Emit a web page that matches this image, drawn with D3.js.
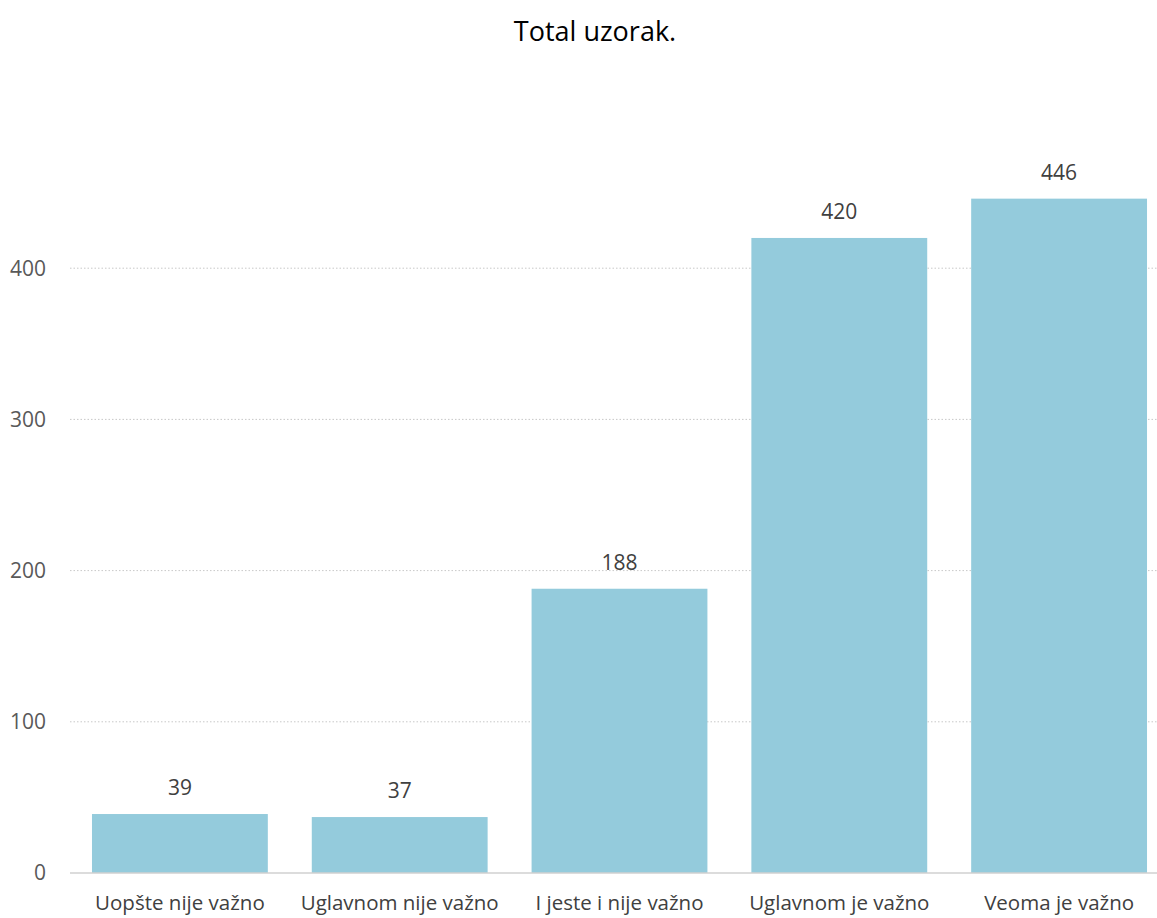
<!DOCTYPE html>
<html><head><meta charset="utf-8">
<script src="https://cdn.jsdelivr.net/npm/d3@7"></script>
<style>body{margin:0;background:#fff;}text{font-family:"Open Sans",sans-serif;}</style>
</head><body>
<svg id="c" width="1157" height="918"></svg>
<script>
const categories = ["Uopšte nije važno","Uglavnom nije važno","I jeste i nije važno","Uglavnom je važno","Veoma je važno"];
const values = [39,37,188,420,446];
const yTicks = [0,100,200,300,400];
const title = "Total uzorak.";

const svg = d3.select("#c");
const x = d3.scaleBand().domain(categories).range([70,1169]).paddingInner(0.2).paddingOuter(0.1);
const y = d3.scaleLinear().domain([0,500]).range([873,117]);

svg.append("text").attr("x",595).attr("y",41).attr("text-anchor","middle")
  .attr("font-size",27).attr("fill","#000").text(title);

svg.append("g").selectAll("line").data(yTicks.filter(d=>d>0)).join("line")
  .attr("x1",70).attr("x2",1157).attr("y1",d=>y(d)).attr("y2",d=>y(d))
  .attr("stroke","#c8c8c8").attr("stroke-dasharray","1.5,2");

svg.append("g").selectAll("text").data(yTicks).join("text")
  .attr("x",46).attr("y",d=>y(d)).attr("dy","0.35em").attr("text-anchor","end")
  .attr("font-size",21).attr("fill","#595959").text(d=>d);

svg.append("g").selectAll("rect").data(values).join("rect")
  .attr("x",(d,i)=>x(categories[i])).attr("width",x.bandwidth())
  .attr("y",d=>y(d)).attr("height",d=>y(0)-y(d)).attr("fill","#94cbdc");

svg.append("line").attr("x1",70).attr("x2",1157).attr("y1",y(0)).attr("y2",y(0))
  .attr("stroke","#d0d0d0").attr("stroke-width",1.5);

svg.append("g").selectAll("text").data(values).join("text")
  .attr("x",(d,i)=>x(categories[i])+x.bandwidth()/2).attr("y",d=>y(d)-19)
  .attr("text-anchor","middle").attr("font-size",21).attr("fill","#404040").text(d=>d);

svg.append("g").selectAll("text").data(categories).join("text")
  .attr("x",d=>x(d)+x.bandwidth()/2).attr("y",910)
  .attr("text-anchor","middle").attr("font-size",20.5).attr("fill","#404040").text(d=>d);
</script>
</body></html>
